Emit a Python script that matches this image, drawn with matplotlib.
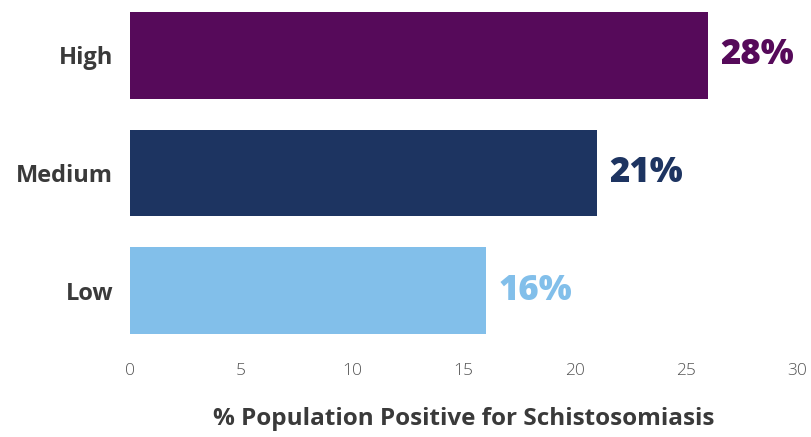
import matplotlib
matplotlib.use('Agg')
from matplotlib import pyplot as plt

categories = ['Low', 'Medium', 'High']
values = [16, 21, 26]
value_labels = ['16%', '21%', '28%']
colors = ['#82bfea', '#1d3461', '#560a5a']

plt.rcParams['font.family'] = ['Open Sans', 'DejaVu Sans']

fig = plt.figure(figsize=(8.12, 4.37), dpi=100)
ax = fig.add_axes([0.160, 0.2357, 0.8215, 0.7368])

ypos = list(range(len(categories)))
ax.barh(ypos, values, height=0.74, color=colors)

for y, v, lab, c in zip(ypos, values, value_labels, colors):
    ax.annotate(lab, (v, y), xytext=(9, 0), textcoords='offset points',
                va='center', ha='left', fontsize=25, fontweight='heavy', color=c)

ax.set_xlim(0, 30)
ax.set_ylim(-0.37, 2.37)
ax.set_xticks([0, 5, 10, 15, 20, 25, 30])
ax.set_yticks(ypos)
ax.set_yticklabels(categories, fontsize=17, fontweight='bold', color='#3a3a3a')
ax.tick_params(axis='x', length=0, pad=21, labelsize=12.5, labelcolor='#555555')
ax.tick_params(axis='y', length=0, pad=12)
for lbl in ax.get_xticklabels():
    lbl.set_fontweight('light')

for s in ax.spines.values():
    s.set_visible(False)

ax.set_xlabel('% Population Positive for Schistosomiasis', fontsize=17.5,
              fontweight='bold', color='#3a3a3a', labelpad=20)

fig.savefig('out.png', dpi=100)
